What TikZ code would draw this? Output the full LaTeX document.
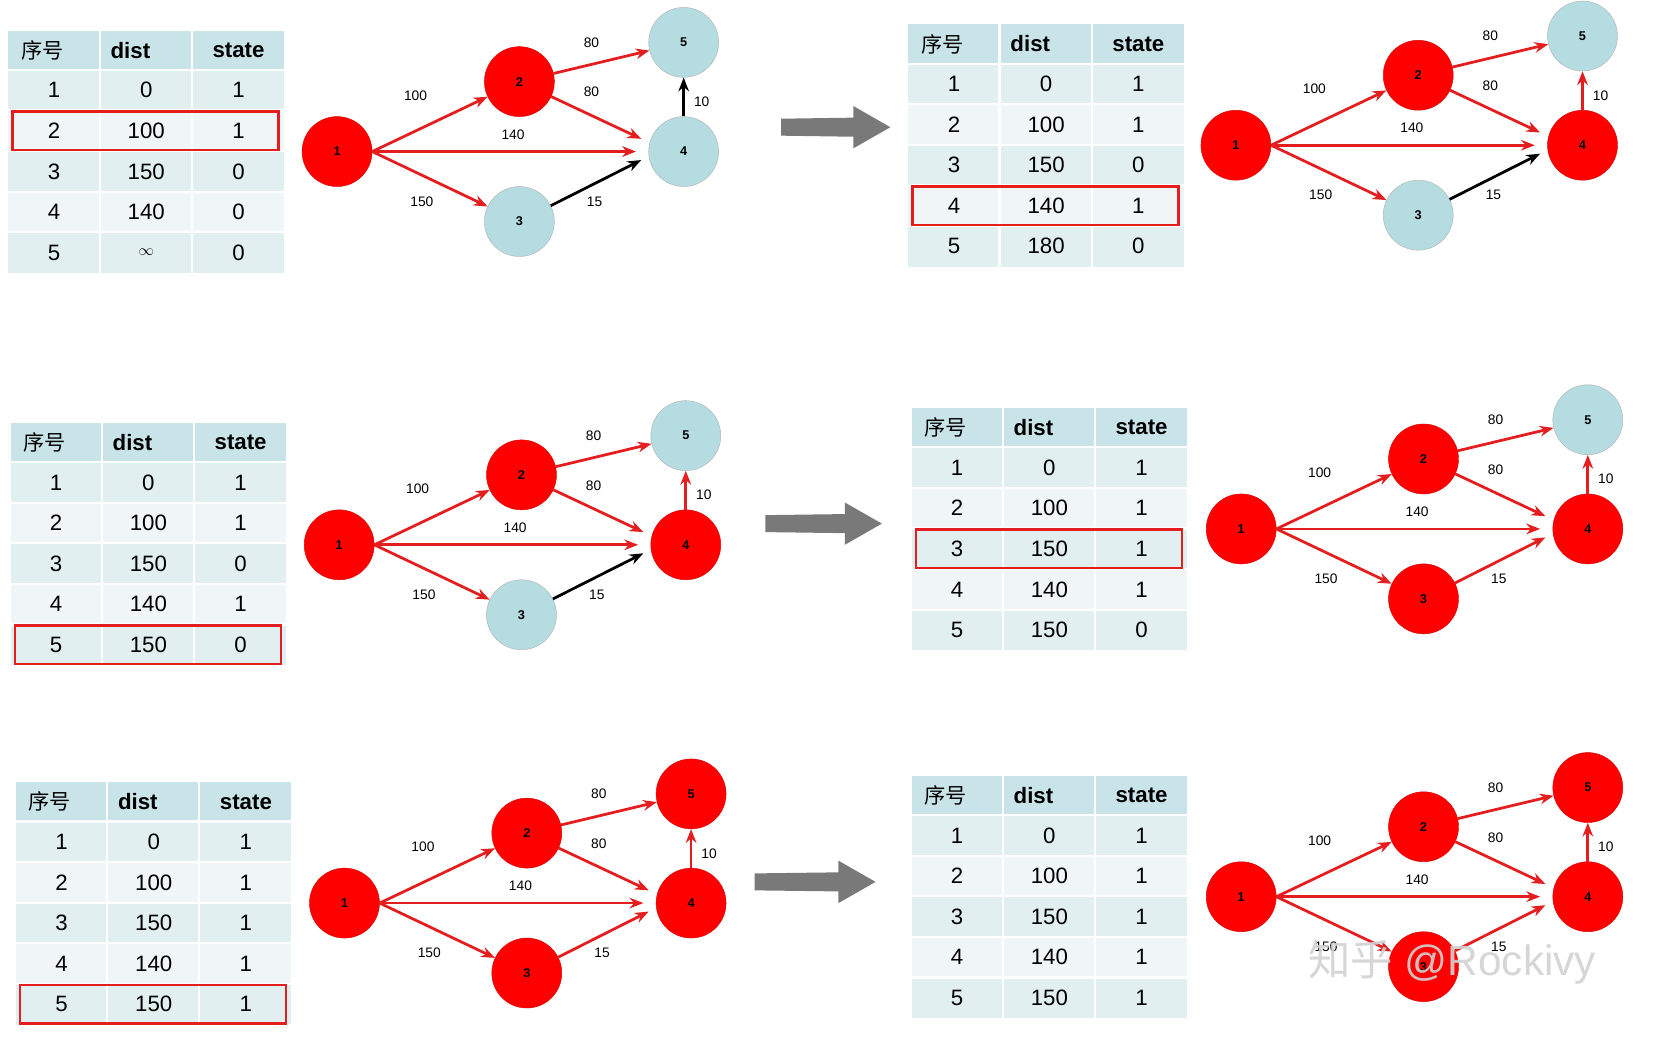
\documentclass[tikz,border=0pt]{standalone}
\usepackage{fontspec}
\setmainfont{Liberation Sans}
\newfontfamily\cjk{Noto Sans CJK SC}
\usetikzlibrary{arrows.meta}
\definecolor{hdr}{HTML}{C8E4E8}
\definecolor{rowa}{HTML}{E2EFF1}
\definecolor{rowb}{HTML}{F0F6F7}
\definecolor{nblue}{HTML}{B5DCE0}
\definecolor{nred}{HTML}{FF0000}
\definecolor{ared}{HTML}{E41E1E}
\tikzset{
 nd/.style={circle,minimum size=66pt,inner sep=0pt,font=\bfseries\fontsize{12}{12}\selectfont},
 rn/.style={nd,fill=nred,draw=red!85!black},
 bn/.style={nd,fill=nblue,draw=gray!60},
 ed/.style={line width=2.6pt,-{Stealth[length=13pt,width=10pt]}},
 el/.style={font=\fontsize{13}{13}\selectfont},
 tt/.style={font=\fontsize{21}{21}\selectfont},
 th/.style={font=\bfseries\fontsize{21}{21}\selectfont},
 hl/.style={draw=ared,line width=2.4pt},
 garrow/.style={fill=gray!95!black}
}
\newcommand\dtable[2]{%
 \fill[hdr] (0,0) rectangle (260,37);
 \foreach \a/\b/\c [count=\i] in {#1}{%
   \pgfmathsetmacro\yt{37+(\i-1)*38.3}\pgfmathsetmacro\yb{37+\i*38.3}
   \pgfmathsetmacro\ym{(\yt+\yb)/2}
   \ifodd\i \fill[rowa] (0,\yt) rectangle (260,\yb); \else \fill[rowb] (0,\yt) rectangle (260,\yb);\fi
   \draw[white,line width=2pt] (0,\yt) -- (260,\yt);
   \node[tt] at (43,\ym) {\a}; \node[tt] at (130,\ym) {\b}; \node[tt] at (217,\ym) {\c};
 }
 \draw[white,line width=2pt] (86,0) -- (86,228.5) (173,0) -- (173,228.5);
 \node[font=\cjk\fontsize{20}{20}\selectfont] at (32,18.5) {序号};
 \node[th] at (115,18.5) {dist}; \node[th] at (217,18.5) {state};
 \ifnum#2>0
  \pgfmathsetmacro\ht{37+(#2-1)*38.3+1}\pgfmathsetmacro\hb{37+#2*38.3-1}
  \draw[hl] (4,\ht) rectangle (255,\hb);
 \fi
}
\newcommand\dgraph[8]{%
 \node[#2] (#1a) at (0,0) {1};
 \node[#3] (#1b) at (172,-66) {2};
 \node[#4] (#1c) at (172,66) {3};
 \node[#5] (#1d) at (327,0) {4};
 \node[#6] (#1e) at (327,-103) {5};
 \coordinate (#1p) at (287,-12);
 \coordinate (#1q) at (282,0);
 \coordinate (#1r) at (287,8);
 \draw[ed,ared] (#1a.east) -- (#1b);
 \draw[ed,ared] (#1a.east) -- (#1c);
 \draw[ed,ared] (#1a.east) -- (#1q);
 \draw[ed,ared] (#1b) -- (#1e);
 \draw[ed,ared] (#1b) -- (#1p);
 \draw[ed,#7] (#1c) -- (#1r);
 \draw[ed,#8] (#1d) -- (#1e);
 \node[el] at (74,-53) {100};
 \node[el] at (80,47) {150};
 \node[el] at (166,-16) {140};
 \node[el] at (240,-103) {80};
 \node[el] at (240,-56) {80};
 \node[el] at (243,47) {15};
 \node[el] at (344,-47) {10};
}
\newcommand\garr[3]{%
 \fill[garrow] (#1,#3-8) -- (#2-35,#3-9) -- (#2-35,#3-20) -- (#2,#3) -- (#2-35,#3+20) -- (#2-35,#3+9) -- (#1,#3+8) -- cycle;
}
\newcommand\infsym{{\fontsize{15}{15}\selectfont$\infty$}}
\begin{document}
\begin{tikzpicture}[x=1pt,y=-1pt]
\useasboundingbox[fill=white] (0,0) rectangle (1568,979);
\begin{scope}[shift={(8,29)}]\dtable{1/0/1,2/100/1,3/150/0,4/140/0,5/\infsym/0}{2}\end{scope}
\begin{scope}[shift={(318,143)}]\dgraph{A}{rn}{rn}{bn}{bn}{bn}{black}{black}\end{scope}
\garr{737}{840}{120}
\begin{scope}[shift={(857,23)}]\dtable{1/0/1,2/100/1,3/150/0,4/140/1,5/180/0}{4}\end{scope}
\begin{scope}[shift={(1166,137)}]\dgraph{B}{rn}{rn}{bn}{rn}{bn}{black}{ared}\end{scope}
\begin{scope}[shift={(10,399)}]\dtable{1/0/1,2/100/1,3/150/0,4/140/1,5/150/0}{5}\end{scope}
\begin{scope}[shift={(320,514)}]\dgraph{C}{rn}{rn}{bn}{rn}{bn}{black}{ared}\end{scope}
\garr{722}{832}{494}
\begin{scope}[shift={(860,385)}]\dtable{1/0/1,2/100/1,3/150/1,4/140/1,5/150/0}{3}\end{scope}
\begin{scope}[shift={(1171,499)}]\dgraph{D}{rn}{rn}{rn}{rn}{bn}{ared}{ared}\end{scope}
\begin{scope}[shift={(15,738)}]\dtable{1/0/1,2/100/1,3/150/1,4/140/1,5/150/1}{5}\end{scope}
\begin{scope}[shift={(325,852)}]\dgraph{E}{rn}{rn}{rn}{rn}{rn}{ared}{ared}\end{scope}
\garr{712}{826}{832}
\begin{scope}[shift={(860,732)}]\dtable{1/0/1,2/100/1,3/150/1,4/140/1,5/150/1}{0}\end{scope}
\begin{scope}[shift={(1171,846)}]\dgraph{F}{rn}{rn}{rn}{rn}{rn}{ared}{ared}\end{scope}
\node[text=gray!35,opacity=0.9,font=\fontsize{40}{40}\selectfont] (wm) at (1370,908) {{\cjk 知乎} @Rockivy};
\end{tikzpicture}
\end{document}
